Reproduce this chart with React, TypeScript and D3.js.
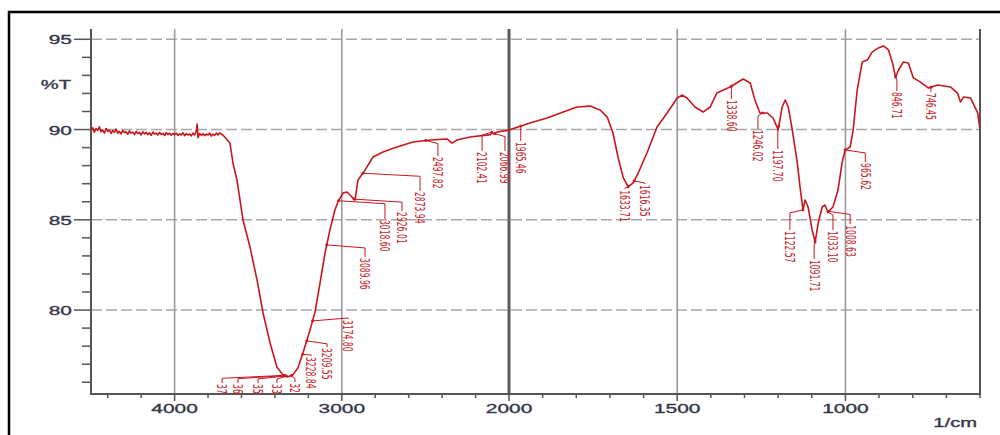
import React, { useEffect, useRef } from "react";
import * as d3 from "d3";

// IR spectrum, wavenumber (1/cm) and transmittance (%T)
const noiseWn = [
  4500, 4490, 4480, 4470, 4460, 4450, 4440, 4430, 4420, 4410, 4400, 4390, 4380, 4370, 4360,
  4350, 4340, 4330, 4320, 4310, 4300, 4290, 4280, 4270, 4260, 4250, 4240, 4230, 4220, 4210,
  4200, 4190, 4180, 4170, 4160, 4150, 4140, 4130, 4120, 4110, 4100, 4090, 4080, 4070, 4060,
  4050, 4040, 4030, 4020, 4010, 4000, 3990, 3980, 3970, 3960, 3950, 3940, 3930, 3920, 3910,
  3900, 3890, 3880, 3872, 3865, 3860, 3850, 3840, 3830, 3820, 3810, 3800, 3790, 3780, 3770,
  3760, 3750, 3740, 3730, 3720,
];
const noiseT = [
  89.92, 90.1, 89.85, 90.05, 89.95, 90.15, 89.88, 89.98, 89.8, 90.06, 89.9, 89.97, 89.78,
  89.94, 89.85, 90.02, 89.8, 89.9, 89.76, 89.95, 89.83, 89.88, 89.74, 89.92, 89.8, 89.86,
  89.72, 89.9, 89.78, 89.84, 89.7, 89.88, 89.76, 89.85, 89.72, 89.82, 89.68, 89.86, 89.75,
  89.8, 89.7, 89.84, 89.73, 89.79, 89.67, 89.83, 89.72, 89.8, 89.69, 89.78, 89.72, 89.8,
  89.68, 89.76, 89.7, 89.82, 89.66, 89.78, 89.7, 89.75, 89.65, 89.8, 89.7, 89.85, 90.3, 89.55,
  89.78, 89.68, 89.77, 89.66, 89.75, 89.7, 89.8, 89.64, 89.75, 89.68, 89.8, 89.7, 89.82, 89.74,
];
const bandWn = [
  3711, 3669, 3651, 3627, 3591, 3549, 3507, 3471, 3429, 3388, 3352, 3322, 3292, 3262, 3232,
  3190, 3160, 3130, 3100, 3071, 3041, 3023, 2993, 2969, 2939, 2921, 2903, 2873, 2813, 2754,
  2670, 2574, 2472, 2371, 2341, 2311, 2233, 2110, 2102, 2090, 2072, 2000, 1938, 1887, 1839,
  1798, 1759, 1729, 1708, 1691, 1676, 1661, 1646, 1631, 1616, 1590, 1560, 1530, 1500, 1486,
  1471, 1447, 1423, 1402, 1382, 1343, 1304, 1283, 1269, 1254, 1233, 1215, 1200, 1188, 1179,
  1170, 1158, 1143, 1135, 1126, 1120, 1111, 1099, 1090, 1081, 1069, 1061, 1052, 1037, 1022,
  1010, 1001, 986, 977, 965, 950, 935, 920, 902, 887, 872, 860, 851, 842, 828, 813, 798, 777,
  753, 726, 688, 667, 658, 649, 628, 607, 601,
];
const bandT = [
  89.7, 89.25, 88.15, 87.21, 84.99, 83.49, 81.67, 79.84, 78.18, 76.85, 76.41, 76.3, 76.41,
  76.8, 77.63, 78.9, 79.9, 81.5, 83.17, 84.44, 85.54, 85.99, 86.48, 86.54, 86.26, 86.1, 87.21,
  87.59, 88.48, 88.76, 89.03, 89.31, 89.42, 89.48, 89.25, 89.42, 89.59, 89.72, 89.86, 89.74,
  89.86, 89.97, 90.36, 90.64, 90.97, 91.25, 91.3, 91.08, 90.69, 89.81, 88.48, 87.37, 86.82,
  87.04, 87.59, 88.7, 90.14, 90.92, 91.75, 91.91, 91.75, 91.25, 90.97, 91.25, 92.03, 92.36,
  92.8, 92.58, 91.64, 90.92, 90.92, 90.64, 89.98, 91.25, 91.64, 91.25, 89.98, 88.15, 86.82,
  85.55, 86.1, 85.71, 84.44, 83.77, 84.82, 85.71, 85.82, 85.43, 85.71, 86.65, 88.15, 88.87,
  89.03, 89.98, 92.19, 93.74, 93.85, 94.3, 94.52, 94.63, 94.41, 93.69, 92.91, 93.3, 93.74,
  93.69, 92.86, 92.63, 92.3, 92.47, 92.36, 92.02, 91.53, 91.8, 91.75, 90.92, 90.14,
];

// Peak annotations: text, where the leader leaves the curve, where the text sits
const peakText = [
  "3716.52", "3620.83", "3501.17", "3388.46", "3280.09", "3228.84", "3209.55", "3174.80",
  "3089.96", "3018.60", "2926.01", "2873.94", "2497.82", "2102.41", "2066.99", "1965.46",
  "1633.71", "1616.35", "1338.60", "1246.02", "1197.70", "1122.57", "1091.71", "1033.10",
  "1008.63", "965.62", "846.71", "746.45",
];
const peakWn = [
  3345, 3340, 3336, 3332, 3300, 3235, 3210, 3175, 3090, 3019, 2926, 2874, 2498, 2102, 2085,
  1965, 1646, 1628, 1339, 1246, 1198, 1126, 1090, 1052, 1050, 1001, 851, 746,
];
const labelWn = [
  3716, 3621, 3501, 3388, 3280, 3184, 3088, 2963, 2861, 2742, 2640, 2532, 2425, 2161, 2024,
  1965, 1655, 1596, 1339, 1260, 1201, 1165, 1093, 1037, 986, 941, 847, 746,
];
const labelT = [
  75.9, 75.9, 75.9, 75.9, 75.95, 77.4, 77.9, 79.45, 82.88, 84.99, 85.43, 86.54, 88.48, 88.76,
  88.76, 89.31, 86.64, 86.93, 91.64, 89.98, 88.87, 84.38, 82.78, 84.38, 84.7, 88.14, 92.08,
  92.02,
];

const yLabelTicks = [95, 90, 85, 80];
const yMinorTicks = d3.range(76, 96, 1);
const xLabelTicks = [4000, 3000, 2000, 1500, 1000];
const xMinorTicks = [...d3.range(4400, 2000, -200), ...d3.range(2000, 599, -100)];
const xGrid = [4000, 3000, 1500, 1000];

function App() {
  const ref = useRef<SVGSVGElement>(null);

  useEffect(() => {
    const svg = d3.select(ref.current);
    svg.selectAll("*").remove();

    const left = 91, right = 980, top = 29, bottom = 394;
    // FTIR plots use a doubled scale below 2000 1/cm
    const x = d3.scaleLinear().domain([4500, 2000, 600]).range([left, 509, right]);
    const y = d3.scaleLinear().domain([75.35, 95.57]).range([bottom, top]);

    const data = [
      ...noiseWn.map((w, i) => ({ wn: w, t: noiseT[i] })),
      ...bandWn.map((w, i) => ({ wn: w, t: bandT[i] })),
    ];
    const tAt = (w: number) => {
      for (let i = 1; i < data.length; i++) {
        if (data[i].wn <= w) {
          const a = data[i - 1], b = data[i];
          const f = (a.wn - w) / (a.wn - b.wn);
          return a.t + f * (b.t - a.t);
        }
      }
      return data[data.length - 1].t;
    };

    const axisColor = "#555";
    const textColor = "#34364a";
    const red = "#c8161d";
    const font = "Liberation Sans, Arial, sans-serif";
    const stretch = 1.55; // the reference is stretched sideways

    // outer frame
    svg.append("rect").attr("x", 9).attr("y", 12).attr("width", 1100).attr("height", 600)
      .attr("fill", "none").attr("stroke", "#000").attr("stroke-width", 2.5);

    svg.append("defs").append("clipPath").attr("id", "plotClip")
      .append("rect").attr("x", left).attr("y", top).attr("width", right - left).attr("height", bottom - top);

    // grid
    svg.append("g").selectAll("line").data(yLabelTicks).join("line")
      .attr("x1", left).attr("x2", right).attr("y1", (d) => y(d)).attr("y2", (d) => y(d))
      .attr("stroke", "#a8a8a8").attr("stroke-width", 1.5).attr("stroke-dasharray", "11,4");
    svg.append("g").selectAll("line").data(xGrid).join("line")
      .attr("x1", (d) => x(d)).attr("x2", (d) => x(d)).attr("y1", top).attr("y2", bottom)
      .attr("stroke", "#9a9a9a").attr("stroke-width", 1.6);
    svg.append("line").attr("x1", x(2000)).attr("x2", x(2000)).attr("y1", top).attr("y2", bottom)
      .attr("stroke", "#5a5a5a").attr("stroke-width", 3);

    // axes lines
    svg.append("path")
      .attr("d", `M${left},${top}V${bottom}H${right}V${top}`)
      .attr("fill", "none").attr("stroke", axisColor).attr("stroke-width", 2);

    const label = (g: any, tx: number, ty: number, anchor: string, size: number, s: string) =>
      g.append("text")
        .attr("transform", `translate(${tx},${ty}) scale(${stretch},1)`)
        .attr("text-anchor", anchor).attr("font-family", font).attr("font-size", size)
        .attr("fill", textColor).attr("stroke", textColor).attr("stroke-width", 0.35)
        .text(s);

    // y ticks
    svg.append("g").selectAll("line").data(yMinorTicks).join("line")
      .attr("x1", (d) => (yLabelTicks.includes(d) ? 74 : 82)).attr("x2", left)
      .attr("y1", (d) => y(d)).attr("y2", (d) => y(d))
      .attr("stroke", axisColor).attr("stroke-width", 1.5);
    const yl = svg.append("g");
    yLabelTicks.forEach((d) => label(yl, 72, y(d) + 5, "end", 13.5, String(d)));
    label(svg, 71, 89, "end", 13, "%T");

    // x ticks
    svg.append("g").selectAll("line").data(xMinorTicks).join("line")
      .attr("x1", (d) => x(d)).attr("x2", (d) => x(d))
      .attr("y1", bottom).attr("y2", (d) => (xLabelTicks.includes(d) ? bottom + 7 : bottom + 4))
      .attr("stroke", axisColor).attr("stroke-width", 1.5);
    const xl = svg.append("g");
    xLabelTicks.forEach((d) => label(xl, x(d), 413, "middle", 13.5, String(d)));
    label(svg, 977, 427, "end", 13, "1/cm");

    const plot = svg.append("g").attr("clip-path", "url(#plotClip)");

    // spectrum
    const line = d3.line<{ wn: number; t: number }>().x((d) => x(d.wn)).y((d) => y(d.t));
    plot.append("path").datum(data).attr("d", line)
      .attr("fill", "none").attr("stroke", red).attr("stroke-width", 1.6)
      .attr("stroke-linejoin", "round");

    // peak labels with leaders
    const peaks = peakText.map((s, i) => {
      const px = x(peakWn[i]), py = y(tAt(peakWn[i]));
      const lx = x(labelWn[i]), ly = y(labelT[i]);
      return { s, px, py, lx, ly };
    });
    const lab = plot.append("g").selectAll("g").data(peaks).join("g");
    lab.append("path")
      .attr("d", (d) => `M${d.px},${d.py}L${d.lx},${Math.min(d.py + 3, d.ly - 2)}L${d.lx},${d.ly - 1}`)
      .attr("fill", "none").attr("stroke", red).attr("stroke-width", 1);
    lab.append("circle").attr("cx", (d) => d.px).attr("cy", (d) => d.py).attr("r", 1.4).attr("fill", red);
    lab.append("text")
      .attr("transform", (d) => `translate(${d.lx},${d.ly}) scale(${stretch},1) rotate(90)`)
      .attr("dy", "0.35em").attr("text-anchor", "start")
      .attr("font-family", "Liberation Sans Narrow, DejaVu Sans Condensed, sans-serif")
      .attr("font-size", 8.5).attr("fill", "#c4262e").text((d) => d.s);
  }, []);

  return (
    <div style={{ position: "absolute", left: 0, top: 0 }}>
      <svg ref={ref} width={1000} height={435} style={{ display: "block", background: "#fff" }} />
    </div>
  );
}

export default App;
